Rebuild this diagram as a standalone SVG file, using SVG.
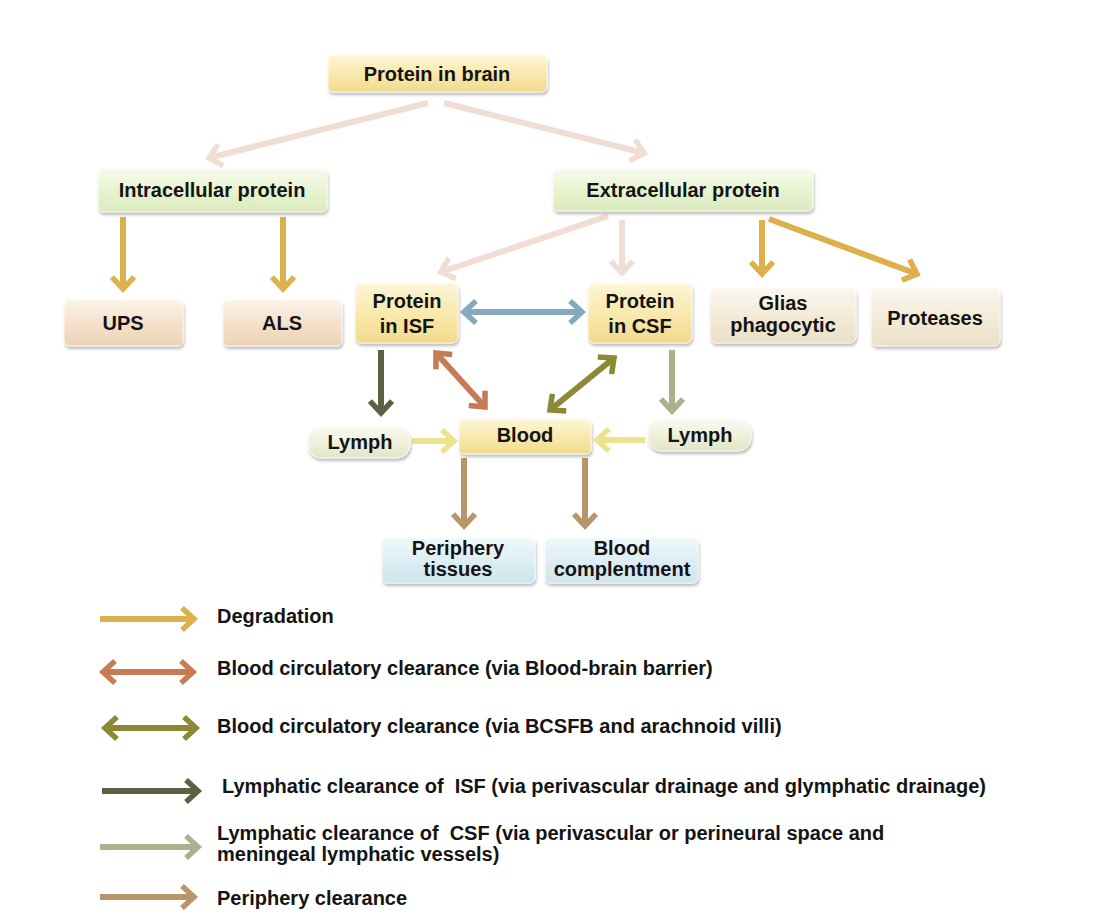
<svg xmlns="http://www.w3.org/2000/svg" width="1098" height="922" viewBox="0 0 1098 922">
<defs>
<style>
.t{font-family:"Liberation Sans",Arial,sans-serif;font-weight:bold;font-size:20px;fill:#141414;text-anchor:middle}
.lg{font-family:"Liberation Sans",Arial,sans-serif;font-weight:bold;font-size:20px;fill:#141414}
.box{filter:url(#sh);stroke:#ffffff;stroke-opacity:0.7;stroke-width:1}
.a{fill:none;stroke-width:6}
</style>
<filter id="sh" x="-10%" y="-20%" width="120%" height="150%">
<feDropShadow dx="1" dy="2.5" stdDeviation="1.6" flood-color="#000" flood-opacity="0.28"/>
</filter>
<linearGradient id="gY" x1="0" y1="0" x2="0" y2="1"><stop offset="0" stop-color="#fdf6d8"/><stop offset="0.5" stop-color="#f9e9ae"/><stop offset="1" stop-color="#f1da8e"/></linearGradient>
<linearGradient id="gG" x1="0" y1="0" x2="0" y2="1"><stop offset="0" stop-color="#f5fbec"/><stop offset="0.5" stop-color="#e8f3d1"/><stop offset="1" stop-color="#dbeabd"/></linearGradient>
<linearGradient id="gP" x1="0" y1="0" x2="0" y2="1"><stop offset="0" stop-color="#fcf3e8"/><stop offset="0.5" stop-color="#f5e1cb"/><stop offset="1" stop-color="#eed3b6"/></linearGradient>
<linearGradient id="gB" x1="0" y1="0" x2="0" y2="1"><stop offset="0" stop-color="#fbf7ee"/><stop offset="0.5" stop-color="#f4ebd8"/><stop offset="1" stop-color="#ebdfc5"/></linearGradient>
<linearGradient id="gL" x1="0" y1="0" x2="0" y2="1"><stop offset="0" stop-color="#f9faf1"/><stop offset="0.5" stop-color="#eff1dc"/><stop offset="1" stop-color="#e2e5c6"/></linearGradient>
<linearGradient id="gC" x1="0" y1="0" x2="0" y2="1"><stop offset="0" stop-color="#eff8fb"/><stop offset="0.5" stop-color="#ddeef4"/><stop offset="1" stop-color="#cee4ed"/></linearGradient>
<marker id="mPink" viewBox="0 0 20 26" markerWidth="20" markerHeight="26" refX="14" refY="13" orient="auto-start-reverse" markerUnits="userSpaceOnUse"><path d="M2,2 L14,13 L2,24" fill="none" stroke="#f1ddd3" stroke-width="5.5"/></marker>
<marker id="mGold" viewBox="0 0 20 26" markerWidth="20" markerHeight="26" refX="14" refY="13" orient="auto-start-reverse" markerUnits="userSpaceOnUse"><path d="M2,2 L14,13 L2,24" fill="none" stroke="#ddb04c" stroke-width="5.5"/></marker>
<marker id="mBlue" viewBox="0 0 20 26" markerWidth="20" markerHeight="26" refX="14" refY="13" orient="auto-start-reverse" markerUnits="userSpaceOnUse"><path d="M2,2 L14,13 L2,24" fill="none" stroke="#86aabb" stroke-width="5.5"/></marker>
<marker id="mDark" viewBox="0 0 20 26" markerWidth="20" markerHeight="26" refX="14" refY="13" orient="auto-start-reverse" markerUnits="userSpaceOnUse"><path d="M2,2 L14,13 L2,24" fill="none" stroke="#5a6244" stroke-width="5.5"/></marker>
<marker id="mTerra" viewBox="0 0 20 26" markerWidth="20" markerHeight="26" refX="14" refY="13" orient="auto-start-reverse" markerUnits="userSpaceOnUse"><path d="M2,2 L14,13 L2,24" fill="none" stroke="#c57b54" stroke-width="5.5"/></marker>
<marker id="mOlive" viewBox="0 0 20 26" markerWidth="20" markerHeight="26" refX="14" refY="13" orient="auto-start-reverse" markerUnits="userSpaceOnUse"><path d="M2,2 L14,13 L2,24" fill="none" stroke="#8c8834" stroke-width="5.5"/></marker>
<marker id="mSage" viewBox="0 0 20 26" markerWidth="20" markerHeight="26" refX="14" refY="13" orient="auto-start-reverse" markerUnits="userSpaceOnUse"><path d="M2,2 L14,13 L2,24" fill="none" stroke="#a9b18f" stroke-width="5.5"/></marker>
<marker id="mPale" viewBox="0 0 20 26" markerWidth="20" markerHeight="26" refX="14" refY="13" orient="auto-start-reverse" markerUnits="userSpaceOnUse"><path d="M2,2 L14,13 L2,24" fill="none" stroke="#ece28f" stroke-width="5.5"/></marker>
<marker id="mTan" viewBox="0 0 20 26" markerWidth="20" markerHeight="26" refX="14" refY="13" orient="auto-start-reverse" markerUnits="userSpaceOnUse"><path d="M2,2 L14,13 L2,24" fill="none" stroke="#b8956b" stroke-width="5.5"/></marker>
</defs>
<rect width="1098" height="922" fill="#ffffff"/>

<g id="connectors">
<line class="a" x1="428" y1="103" x2="209" y2="158" stroke="#f1ddd3" marker-end="url(#mPink)"/>
<line class="a" x1="444" y1="103" x2="644" y2="153" stroke="#f1ddd3" marker-end="url(#mPink)"/>
<line class="a" x1="608" y1="216" x2="441" y2="272" stroke="#f1ddd3" marker-end="url(#mPink)"/>
<line class="a" x1="622" y1="220" x2="622" y2="273" stroke="#f1ddd3" marker-end="url(#mPink)"/>
<line class="a" x1="123" y1="217" x2="123" y2="289" stroke="#ddb04c" marker-end="url(#mGold)"/>
<line class="a" x1="283" y1="217" x2="283" y2="289" stroke="#ddb04c" marker-end="url(#mGold)"/>
<line class="a" x1="762" y1="220" x2="762" y2="274" stroke="#ddb04c" marker-end="url(#mGold)"/>
<line class="a" x1="769" y1="219" x2="917" y2="274" stroke="#ddb04c" marker-end="url(#mGold)"/>
<line class="a" x1="464" y1="312" x2="582" y2="312" stroke="#86aabb" marker-start="url(#mBlue)" marker-end="url(#mBlue)"/>
<line class="a" x1="381" y1="350" x2="381" y2="413" stroke="#5a6244" marker-end="url(#mDark)"/>
<line class="a" x1="436" y1="353" x2="485" y2="407" stroke="#c57b54" marker-start="url(#mTerra)" marker-end="url(#mTerra)"/>
<line class="a" x1="614" y1="358" x2="550" y2="410" stroke="#8c8834" marker-start="url(#mOlive)" marker-end="url(#mOlive)"/>
<line class="a" x1="672" y1="350" x2="672" y2="411" stroke="#a9b18f" marker-end="url(#mSage)"/>
<line class="a" x1="412" y1="441" x2="454" y2="441" stroke="#ece28f" marker-end="url(#mPale)"/>
<line class="a" x1="645" y1="440" x2="597" y2="440" stroke="#ece28f" marker-end="url(#mPale)"/>
<line class="a" x1="464" y1="458" x2="464" y2="526" stroke="#b8956b" marker-end="url(#mTan)"/>
<line class="a" x1="585" y1="458" x2="585" y2="526" stroke="#b8956b" marker-end="url(#mTan)"/>
</g>

<g id="node-brain"><rect class="box" x="328" y="55" width="219" height="37" rx="5" fill="url(#gY)"/><text class="t" x="437" y="81">Protein in brain</text></g>
<g id="node-intracellular"><rect class="box" x="98" y="169" width="229" height="43" rx="5" fill="url(#gG)"/><text class="t" x="212" y="197">Intracellular protein</text></g>
<g id="node-extracellular"><rect class="box" x="553" y="169" width="260" height="42" rx="5" fill="url(#gG)"/><text class="t" x="683" y="197">Extracellular protein</text></g>
<g id="node-ups"><rect class="box" x="64" y="300" width="119" height="46" rx="5" fill="url(#gP)"/><text class="t" x="123" y="330">UPS</text></g>
<g id="node-als"><rect class="box" x="223" y="300" width="119" height="46" rx="5" fill="url(#gP)"/><text class="t" x="282" y="330">ALS</text></g>
<g id="node-isf"><rect class="box" x="355" y="283" width="103" height="60" rx="6" fill="url(#gY)"/><text class="t" x="407" y="308">Protein</text><text class="t" x="407" y="333">in ISF</text></g>
<g id="node-csf"><rect class="box" x="588" y="283" width="104" height="60" rx="6" fill="url(#gY)"/><text class="t" x="640" y="308">Protein</text><text class="t" x="640" y="333">in CSF</text></g>
<g id="node-glias"><rect class="box" x="710" y="288" width="146" height="55" rx="6" fill="url(#gB)"/><text class="t" x="783" y="310">Glias</text><text class="t" x="783" y="332">phagocytic</text></g>
<g id="node-proteases"><rect class="box" x="871" y="288" width="129" height="58" rx="6" fill="url(#gB)"/><text class="t" x="935" y="325">Proteases</text></g>
<g id="node-blood"><rect class="box" x="459" y="419" width="132" height="35" rx="5" fill="url(#gY)"/><text class="t" x="525" y="442">Blood</text></g>
<g id="node-lymph-left"><rect class="box" x="308" y="427" width="102" height="31" rx="13" fill="url(#gL)"/><text class="t" x="360" y="449">Lymph</text></g>
<g id="node-lymph-right"><rect class="box" x="648" y="419" width="103" height="32" rx="13" fill="url(#gL)"/><text class="t" x="700" y="442">Lymph</text></g>
<g id="node-periphery"><rect class="box" x="382" y="538" width="153" height="45" rx="5" fill="url(#gC)"/><text class="t" x="458" y="555">Periphery</text><text class="t" x="458" y="576">tissues</text></g>
<g id="node-complement"><rect class="box" x="545" y="538" width="153" height="45" rx="5" fill="url(#gC)"/><text class="t" x="622" y="555">Blood</text><text class="t" x="622" y="576">complentment</text></g>

<g id="legend">
<line class="a" x1="100" y1="619" x2="194" y2="619" stroke="#ddb04c" marker-end="url(#mGold)"/>
<text class="lg" x="217" y="623">Degradation</text>
<line class="a" x1="103" y1="672" x2="193" y2="672" stroke="#c57b54" marker-start="url(#mTerra)" marker-end="url(#mTerra)"/>
<text class="lg" x="217" y="675">Blood circulatory clearance (via Blood-brain barrier)</text>
<line class="a" x1="105" y1="728" x2="196" y2="728" stroke="#8c8834" marker-start="url(#mOlive)" marker-end="url(#mOlive)"/>
<text class="lg" x="217" y="733">Blood circulatory clearance (via BCSFB and arachnoid villi)</text>
<line class="a" x1="102" y1="791" x2="198" y2="791" stroke="#5a6244" marker-end="url(#mDark)"/>
<text class="lg" x="222" y="793" xml:space="preserve">Lymphatic clearance of  ISF (via perivascular drainage and glymphatic drainage)</text>
<line class="a" x1="100" y1="847" x2="198" y2="847" stroke="#a9b18f" marker-end="url(#mSage)"/>
<text class="lg" x="217" y="840" xml:space="preserve">Lymphatic clearance of  CSF (via perivascular or perineural space and</text>
<text class="lg" x="217" y="861">meningeal lymphatic vessels)</text>
<line class="a" x1="100" y1="897" x2="194" y2="897" stroke="#b8956b" marker-end="url(#mTan)"/>
<text class="lg" x="217" y="905">Periphery clearance</text>
</g>
</svg>
